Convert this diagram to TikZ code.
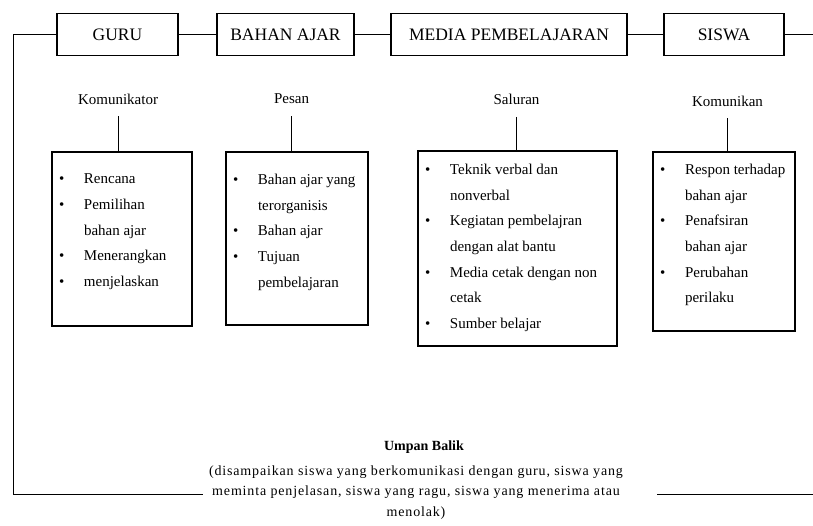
\documentclass[tikz,border=0pt]{standalone}
\usepackage{fontspec}
\setmainfont{Liberation Serif}
\usetikzlibrary{positioning}

% satu butir daftar dengan titik di depannya
\newcommand{\butir}[1]{\par\hangindent=32pt\hangafter=1\noindent\makebox[32pt][l]{\hspace{7pt}\textbullet}#1}
% isi kotak daftar: lebar, tinggi, jarak atas, butir-butir
\newcommand{\isidaftar}[4]{\parbox[c][#2][t]{#1}{\parskip=0pt\parfillskip=0pt plus 1fil\vspace*{#3}#4}}

\begin{document}
\begin{tikzpicture}[
    x=1pt, y=-1pt,
    kotak/.style={draw, line width=1.2pt, minimum height=42pt, inner sep=0pt, font=\fontsize{17.5}{20}\selectfont},
    daftar/.style={draw, line width=1.2pt, inner sep=0pt, font=\fontsize{15}{25.7}\selectfont},
    peran/.style={inner sep=2pt, font=\fontsize{15}{18}\selectfont},
    garis/.style={line width=0.8pt}
]
    \useasboundingbox (0,0) rectangle (813,525);

    % baris atas
    \node[kotak, minimum width=121pt] (guru) at (117.5,34.5) {GURU};
    \node[kotak, minimum width=137pt] (bahan) at (285.5,34.5) {BAHAN AJAR};
    \node[kotak, minimum width=236pt] (media) at (509,34.5) {MEDIA PEMBELAJARAN};
    \node[kotak, minimum width=120pt] (siswa) at (724,34.5) {SISWA};

    % peran
    \node[peran] (komunikator) at (118,99) {Komunikator};
    \node[peran] (pesan) at (291.5,99) {Pesan};
    \node[peran] (saluran) at (516.5,99.5) {Saluran};
    \node[peran] (komunikan) at (727.5,101) {Komunikan};

    % kotak daftar
    \node[daftar] (daftarguru) at (122,239) {\isidaftar{140pt}{174pt}{22pt}{%
        \butir{Rencana}
        \butir{Pemilihan\newline bahan ajar}
        \butir{Menerangkan}
        \butir{menjelaskan}}};
    \node[daftar] (daftarbahan) at (297,238.5) {\isidaftar{142pt}{173pt}{22pt}{%
        \butir{Bahan ajar yang\newline terorganisis}
        \butir{Bahan ajar}
        \butir{Tujuan\newline pembelajaran}}};
    \node[daftar] (daftarmedia) at (517.5,248.5) {\isidaftar{199pt}{195pt}{13pt}{%
        \butir{Teknik verbal dan\newline nonverbal}
        \butir{Kegiatan pembelajran\newline dengan alat bantu}
        \butir{Media cetak dengan non\newline cetak}
        \butir{Sumber belajar}}};
    \node[daftar] (daftarsiswa) at (724,241.5) {\isidaftar{142pt}{179pt}{12pt}{%
        \butir{Respon terhadap\newline bahan ajar}
        \butir{Penafsiran\newline bahan ajar}
        \butir{Perubahan\newline perilaku}}};

    % umpan balik
    \node[font=\bfseries\fontsize{14}{17}\selectfont] (umpan) at (424,447) {Umpan Balik};
    \node[align=center, font=\fontsize{14}{20.5}\selectfont\addfontfeatures{LetterSpace=6}] (keterangan) at (416,492.5)
        {(disampaikan siswa yang berkomunikasi dengan guru, siswa yang\\
         meminta penjelasan, siswa yang ragu, siswa yang menerima atau\\
         menolak)};

    \coordinate (ujungkanan) at (813,34.5);
    \coordinate (sudutkiri) at (13,494);
    \coordinate (celahkiri) at (203,494);
    \coordinate (celahkanan) at (657,494);
    \coordinate (sudutkanan) at (813,494);

    \draw[garis] (guru) -- (bahan) -- (media) -- (siswa) -- (ujungkanan);
    \draw[garis, shorten <=10pt] (komunikator.south) -- (komunikator.south |- daftarguru.north);
    \draw[garis, shorten <=10pt] (pesan.south) -- (pesan.south |- daftarbahan.north);
    \draw[garis, shorten <=10pt] (saluran.south) -- (saluran.south |- daftarmedia.north);
    \draw[garis, shorten <=10pt] (komunikan.south) -- (komunikan.south |- daftarsiswa.north);
    \draw[garis] (guru.west) -| (sudutkiri) -- (celahkiri);
    \draw[garis] (celahkanan) -- (sudutkanan);
\end{tikzpicture}
\end{document}
